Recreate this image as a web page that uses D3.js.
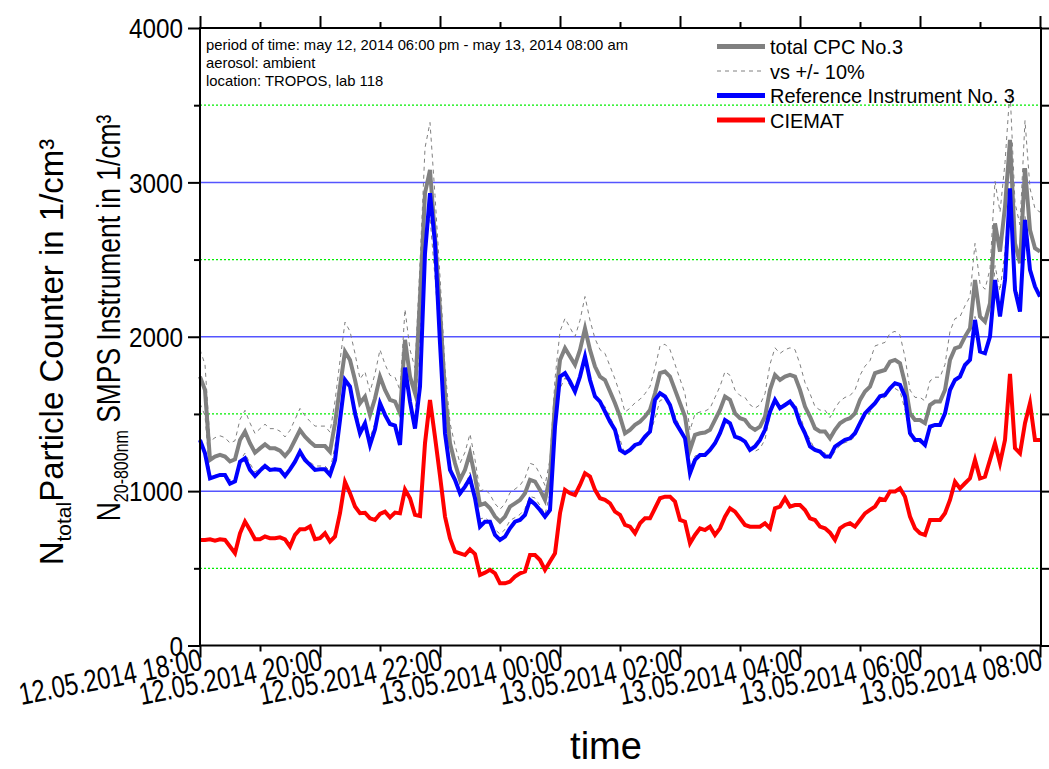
<!DOCTYPE html>
<html>
<head>
<meta charset="utf-8">
<script src="https://cdn.jsdelivr.net/npm/d3@7"></script>
<style>
  body { margin: 0; background: #fff; }
  svg { display: block; }
  text { font-family: "Liberation Sans", Arial, sans-serif; fill: #000; }
</style>
</head>
<body>
<svg id="chart" width="1049" height="769"></svg>
<script>
// ---------- data (5-minute samples, 12.05.2014 18:00 ... 13.05.2014 08:00) ----------
const startTime = new Date(2014, 4, 12, 18, 0);
const endTime = new Date(2014, 4, 13, 8, 0);
const stepMinutes = 5;

const cpcTotal = [
  1742,1655,1202,1224,1235,1224,1192,1206,1331,1385,1310,1249,1277,1303,1277,1277,1262,1228,1267,1331,
  1396,1353,1320,1292,1292,1292,1256,1439,1677,1904,1850,1720,1569,1612,1494,1600,1742,1656,1591,1580,
  1504,1980,1742,1634,2250,2930,3080,2650,2174,1634,1310,1180,1073,1138,1246,1094,910,921,889,835,
  802,835,900,921,943,986,1073,1062,1008,943,1094,1569,1850,1926,1872,1818,1915,2055,1915,1807,
  1742,1720,1645,1569,1483,1375,1397,1429,1450,1483,1526,1634,1764,1774,1742,1656,1569,1483,1267,1364,
  1375,1380,1397,1461,1526,1613,1591,1504,1472,1461,1418,1397,1418,1483,1656,1753,1720,1742,1753,1742,
  1656,1548,1483,1407,1386,1386,1342,1397,1440,1461,1472,1504,1591,1645,1677,1764,1775,1785,1839,1850,
  1828,1699,1504,1461,1461,1440,1558,1580,1580,1655,1850,1925,1936,2001,2055,2368,2131,2098,2217,2735,
  2552,2843,3275,2606,2476,3092,2692,2573,2552
];
const referenceNo3 = [
  1331,1245,1083,1094,1105,1105,1048,1063,1191,1213,1137,1098,1133,1163,1137,1141,1137,1098,1141,1191,
  1256,1202,1170,1137,1141,1141,1105,1202,1461,1720,1677,1504,1375,1439,1299,1400,1569,1494,1435,1425,
  1299,1800,1580,1405,1677,2541,2930,2606,1958,1375,1137,1073,986,1029,1083,954,770,802,802,716,
  684,705,759,802,813,846,943,915,878,835,878,1418,1742,1764,1710,1645,1742,1872,1720,1613,
  1580,1515,1450,1397,1267,1246,1267,1299,1310,1353,1386,1591,1634,1613,1558,1450,1397,1342,1116,1202,
  1234,1234,1267,1310,1375,1461,1440,1353,1342,1321,1267,1289,1332,1397,1515,1591,1537,1558,1580,1537,
  1440,1375,1289,1267,1256,1224,1224,1289,1310,1332,1342,1375,1440,1504,1537,1570,1615,1623,1666,1699,
  1688,1612,1375,1331,1331,1299,1418,1429,1429,1504,1655,1720,1742,1817,1850,2109,1904,1893,2001,2368,
  2131,2368,2962,2303,2163,2757,2433,2325,2260
];
const ciemat = [
  684,684,688,679,688,684,641,598,727,803,749,688,688,706,695,695,701,688,641,717,
  753,753,771,688,695,727,673,706,857,1060,987,900,857,860,824,813,852,867,830,861,
  856,1010,954,846,839,1310,1590,1350,1100,835,694,608,597,586,623,593,457,472,490,468,
  403,403,414,446,468,479,586,586,554,490,544,597,857,1008,986,975,1040,1116,1094,1008,
  954,943,921,867,846,781,770,727,792,824,824,889,954,964,964,932,813,802,662,716,
  759,748,770,716,759,835,889,867,824,781,770,770,770,792,759,889,900,954,900,910,
  910,878,824,813,770,759,731,684,759,781,792,770,813,856,878,900,950,943,997,997,
  1018,964,835,759,727,716,813,813,813,857,943,1061,1018,1051,1083,1202,1083,1094,1202,1310,
  1181,1331,1760,1278,1245,1440,1570,1331,1331
];
const toleranceFraction = 0.10; // "vs +/- 10%" band around total CPC

const yMajorTicks = [0, 1000, 2000, 3000, 4000];
const yMinorTicks = [500, 1500, 2500, 3500];
const yMajorGrid = [1000, 2000, 3000];
const seriesNames = ["total CPC No.3", "vs +/- 10%", "Reference Instrument No. 3", "CIEMAT"];
const infoLines = [
  "period of time: may 12, 2014 06:00 pm - may 13, 2014 08:00 am",
  "aerosol: ambient",
  "location: TROPOS, lab 118"
];

// ---------- layout ----------
const svg = d3.select("#chart");
const L = 200, R = 1041, T = 28, B = 645.5;

const times = cpcTotal.map((d, i) => d3.timeMinute.offset(startTime, stepMinutes * i));
const x = d3.scaleTime().domain([startTime, endTime]).range([L, 1040]);
const y = d3.scaleLinear().domain([0, 4000]).range([B, T]);

// ---------- grid ----------
svg.append("g").selectAll("line").data(yMinorTicks).join("line")
  .attr("x1", L).attr("x2", R).attr("y1", d => y(d)).attr("y2", d => y(d))
  .attr("stroke", "#00ee00").attr("stroke-width", 1.2).attr("stroke-dasharray", "2,2");
svg.append("g").selectAll("line").data(yMajorGrid).join("line")
  .attr("x1", L).attr("x2", R).attr("y1", d => y(d)).attr("y2", d => y(d))
  .attr("stroke", "#5555ff").attr("stroke-width", 1.5);

// ---------- lines ----------
const mk = arr => d3.line().x((d, i) => x(times[i])).y(d => y(d))(arr);
const upper = cpcTotal.map(v => v * (1 + toleranceFraction));
const lower = cpcTotal.map(v => v * (1 - toleranceFraction));

[upper, lower].forEach(arr => {
  svg.append("path").attr("d", mk(arr)).attr("fill", "none")
    .attr("stroke", "#808080").attr("stroke-width", 1).attr("stroke-dasharray", "4,4");
});
const lineStyle = (sel, col) => sel.attr("fill", "none").attr("stroke", col)
  .attr("stroke-width", 4).attr("stroke-linejoin", "miter").attr("stroke-miterlimit", 6);
lineStyle(svg.append("path").attr("d", mk(cpcTotal)), "#808080");
lineStyle(svg.append("path").attr("d", mk(referenceNo3)), "#0000ff");
lineStyle(svg.append("path").attr("d", mk(ciemat)), "#ff0000");

// ---------- axes ----------
const fmt = d3.timeFormat("%d.%m.%Y %H:%M");
const majorX = d3.timeHour.every(2).range(startTime, d3.timeMinute.offset(endTime, 1));
const minorX = d3.timeHour.every(1).range(startTime, d3.timeMinute.offset(endTime, 1)).filter(d => d.getHours() % 2 === 1);

function styleAxis(g) {
  g.select(".domain").remove();
  g.selectAll(".tick line").attr("stroke", "#000").attr("stroke-width", 2);
}
// bottom
const gb = svg.append("g").attr("transform", `translate(0,${B})`)
  .call(d3.axisBottom(x).tickValues(majorX).tickSize(12).tickFormat(fmt));
styleAxis(gb);
gb.selectAll(".tick text").attr("font-size", 31).attr("text-anchor", "end")
  .attr("y", 0).attr("dy", 0)
  .attr("transform", "translate(3,24) rotate(-11) scale(0.77,1)");
svg.append("g").attr("transform", `translate(0,${B})`)
  .call(d3.axisBottom(x).tickValues(minorX).tickSize(6).tickFormat("")).call(styleAxis);
// top
svg.append("g").attr("transform", `translate(0,${T})`)
  .call(d3.axisTop(x).tickValues(majorX).tickSize(12).tickFormat("")).call(styleAxis);
svg.append("g").attr("transform", `translate(0,${T})`)
  .call(d3.axisTop(x).tickValues(minorX).tickSize(6).tickFormat("")).call(styleAxis);
// left
const gl = svg.append("g").attr("transform", `translate(${L},0)`)
  .call(d3.axisLeft(y).tickValues(yMajorTicks).tickSize(12).tickPadding(5).tickFormat(d3.format("d")));
styleAxis(gl);
gl.selectAll(".tick text").attr("font-size", 27).attr("dy", "0.36em").attr("x", 0)
  .attr("transform", "translate(-17,0) scale(0.9,1)");
svg.append("g").attr("transform", `translate(${L},0)`)
  .call(d3.axisLeft(y).tickValues(yMinorTicks).tickSize(6).tickFormat("")).call(styleAxis);
// right
svg.append("g").attr("transform", `translate(${R},0)`)
  .call(d3.axisRight(y).tickValues(yMajorTicks.concat(yMinorTicks)).tickSize(8).tickFormat("")).call(styleAxis);

// frame
svg.append("rect").attr("x", L).attr("y", T).attr("width", R - L).attr("height", B - T)
  .attr("fill", "none").attr("stroke", "#000").attr("stroke-width", 2);

// ---------- titles ----------
svg.append("text").attr("x", 606).attr("y", 759).attr("text-anchor", "middle")
  .attr("font-size", 38).text("time");

const t1 = svg.append("text").attr("transform", "translate(63,352) rotate(-90)")
  .attr("text-anchor", "middle").attr("font-size", 33);
t1.append("tspan").text("N");
t1.append("tspan").attr("font-size", 21).attr("dy", 8).text("total");
t1.append("tspan").attr("dy", -8).text("Particle Counter in 1/cm³");

const t2 = svg.append("text").attr("transform", "translate(120,318) rotate(-90) scale(0.8,1)")
  .attr("text-anchor", "middle").attr("font-size", 33);
t2.append("tspan").text("N");
t2.append("tspan").attr("font-size", 20).attr("dy", 8).text("20-800nm");
t2.append("tspan").attr("dy", -8).text(" SMPS Instrument in 1/cm³");

// ---------- info text ----------
svg.append("g").selectAll("text").data(infoLines).join("text")
  .attr("x", 206).attr("y", (d, i) => 50 + i * 18).attr("font-size", 14.8).text(d => d);

// ---------- legend ----------
const legendStyles = [
  { color: "#808080", width: 5, dash: null },
  { color: "#808080", width: 1, dash: "4,4" },
  { color: "#0000ff", width: 5, dash: null },
  { color: "#ff0000", width: 5, dash: null }
];
const lg = svg.append("g").selectAll("g").data(seriesNames).join("g")
  .attr("transform", (d, i) => `translate(0,${46.5 + i * 24.5})`);
lg.append("line").attr("x1", 717).attr("x2", 765).attr("y1", 0).attr("y2", 0)
  .attr("stroke", (d, i) => legendStyles[i].color)
  .attr("stroke-width", (d, i) => legendStyles[i].width)
  .attr("stroke-dasharray", (d, i) => legendStyles[i].dash);
lg.append("text").attr("transform", "translate(770,7.5) scale(0.95,1)").attr("font-size", 21).text(d => d);
</script>
</body>
</html>
